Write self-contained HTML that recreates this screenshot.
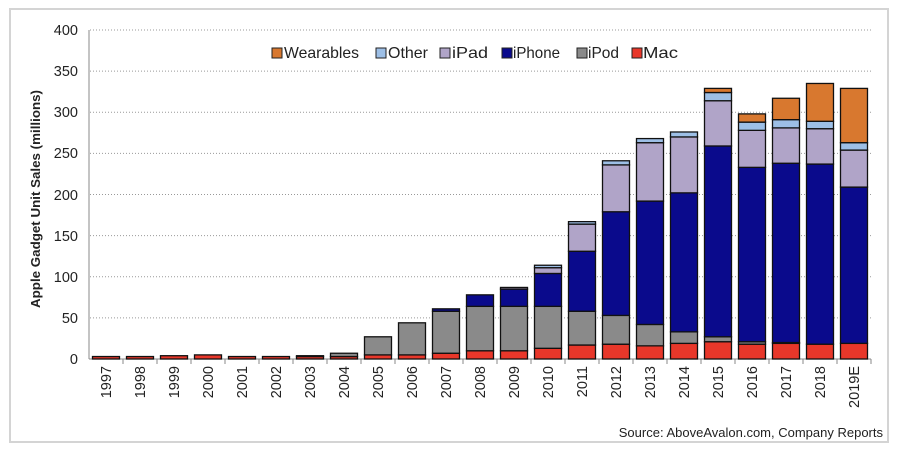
<!DOCTYPE html>
<html><head><meta charset="utf-8"><style>
html,body{margin:0;padding:0;background:#fff;}
svg{display:block;font-family:"Liberation Sans",sans-serif;}
</style></head><body>
<svg id="c" width="900" height="452" xmlns="http://www.w3.org/2000/svg">
<rect x="10" y="9" width="878" height="433" fill="#fff" stroke="#d4d4d4" stroke-width="2"/>
<g id="grid" stroke="#999" stroke-width="1" stroke-dasharray="1,2"></g>
<line x1="89" y1="30" x2="89" y2="359" stroke="#888" stroke-width="1"/>
<line x1="89" y1="359" x2="871" y2="359" stroke="#888" stroke-width="1"/>
<g id="bars" stroke="#111" stroke-width="1.3"></g>
<g font-size="14.5" fill="#222" text-anchor="end">
<text x="78" y="35">400</text><text x="78" y="76">350</text><text x="78" y="117">300</text>
<text x="78" y="158">250</text><text x="78" y="200">200</text><text x="78" y="241">150</text>
<text x="78" y="282">100</text><text x="78" y="323">50</text><text x="78" y="364">0</text>
</g>
<text transform="translate(40,199) rotate(-90)" text-anchor="middle" font-size="13" font-weight="bold" fill="#222" textLength="218" lengthAdjust="spacingAndGlyphs">Apple Gadget Unit Sales (millions)</text>
<g id="xl" font-size="14.5" fill="#222" text-anchor="end"></g>
<g font-size="16" fill="#222" stroke-width="1">
<rect x="272" y="48" width="10" height="10" fill="#d8782f" stroke="#222"/><text x="284" y="58" textLength="75" lengthAdjust="spacingAndGlyphs">Wearables</text>
<rect x="376" y="48" width="10" height="10" fill="#9dbfe6" stroke="#222"/><text x="388" y="58" textLength="40" lengthAdjust="spacingAndGlyphs">Other</text>
<rect x="440" y="48" width="10" height="10" fill="#b0a4c8" stroke="#222"/><text x="452" y="58" textLength="36" lengthAdjust="spacingAndGlyphs">iPad</text>
<rect x="502" y="48" width="10" height="10" fill="#0a0a8c" stroke="#222"/><text x="513" y="58" textLength="47" lengthAdjust="spacingAndGlyphs">iPhone</text>
<rect x="577" y="48" width="10" height="10" fill="#8a8a8a" stroke="#222"/><text x="588" y="58" textLength="31" lengthAdjust="spacingAndGlyphs">iPod</text>
<rect x="632" y="48" width="10" height="10" fill="#e8372a" stroke="#222"/><text x="643" y="58" textLength="35" lengthAdjust="spacingAndGlyphs">Mac</text>
</g>
<text x="883" y="437" text-anchor="end" font-size="13" fill="#222">Source: AboveAvalon.com, Company Reports</text>
</svg>
<script>
var ns="http://www.w3.org/2000/svg";
var g=document.getElementById('grid');
for(var v=50;v<=400;v+=50){var y=359-v*0.8225;var l=document.createElementNS(ns,'line');l.setAttribute('x1',90);l.setAttribute('x2',871);l.setAttribute('y1',y);l.setAttribute('y2',y);g.appendChild(l);}
var yrs=["1997","1998","1999","2000","2001","2002","2003","2004","2005","2006","2007","2008","2009","2010","2011","2012","2013","2014","2015","2016","2017","2018","2019E"];
var D=[[3],[3],[4],[5],[3],[3],[3,4],[3,7],[5,27],[5,44],[7,58,61],[10,64,78],[10,64,85,87],[13,64,104,111,114],
[17,58,131,164,167],[18,53,179,236,241],[16,42,192,263,268],[19,33,202,270,276],[21,27,259,314,324,329],
[18,21,233,278,288,298],[19,20,238,281,291,317],[18,18,237,280,289,335],[19,19,209,254,263,329]];
var C=["#e8372a","#8a8a8a","#0a0a8c","#b0a4c8","#9dbfe6","#d8782f"];
var b=document.getElementById('bars'),xl=document.getElementById('xl');
for(var i=0;i<23;i++){var cx=89+34*(i+0.5);var prev=0;
for(var k=0;k<D[i].length;k++){var t=D[i][k];if(t<=prev)continue;var r=document.createElementNS(ns,'rect');
r.setAttribute('x',cx-13.5);r.setAttribute('width',27);r.setAttribute('y',359-t*0.8225);r.setAttribute('height',(t-prev)*0.8225);r.setAttribute('fill',C[k]);b.appendChild(r);prev=t;}
var tk=document.createElementNS(ns,'line');tk.setAttribute('x1',89+34*(i+1));tk.setAttribute('x2',89+34*(i+1));tk.setAttribute('y1',359);tk.setAttribute('y2',364);tk.setAttribute('stroke','#888');b.parentNode.appendChild(tk);
var tx=document.createElementNS(ns,'text');tx.setAttribute('transform','translate('+(cx+5)+',366) rotate(-90)');tx.textContent=yrs[i];xl.appendChild(tx);}
</script>
</body></html>
